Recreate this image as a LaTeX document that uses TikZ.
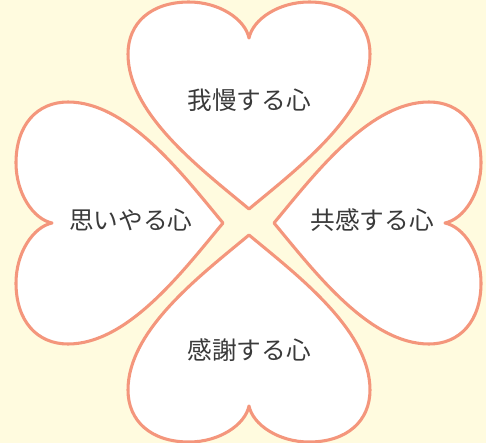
\documentclass[tikz,border=0pt]{standalone}
\usepackage{fontspec}
\newfontfamily\jpfont{Noto Sans CJK JP}
\definecolor{bgyellow}{HTML}{FFFBDF}
\definecolor{heartline}{HTML}{F4967C}
\definecolor{txtgray}{HTML}{3A3A3A}
\tikzset{
  heartpath/.style={draw=heartline, line width=2.3pt, fill=white, line join=round},
  heartlabel/.style={font=\jpfont\fontsize{18.5}{20}\selectfont, text=txtgray, inner sep=0pt},
  heart/.pic={
    \path[heartpath] (0,0)
      .. controls (48,-40) and (121,-95) .. (121,-155)
      .. controls (121,-186) and (98,-207) .. (60,-207)
      .. controls (30,-207) and (4,-190) .. (0,-171)
      .. controls (-4,-190) and (-30,-207) .. (-60,-207)
      .. controls (-98,-207) and (-121,-186) .. (-121,-155)
      .. controls (-121,-95) and (-48,-40) .. (0,0) -- cycle;
  }
}
\begin{document}
\begin{tikzpicture}[x=0.75pt,y=-0.75pt]
\fill[bgyellow] (0,0) rectangle (486,443);
\useasboundingbox (0,0) rectangle (486,443);
\pic at (249,209) {heart};
\pic[rotate=180] at (249,235) {heart};
\pic[rotate=90] at (223,223) {heart};
\pic[rotate=-90] at (274,223) {heart};
\node[heartlabel] (gaman) at (249,100) {我慢する心};
\node[heartlabel] (omoiyari) at (131,220) {思いやる心};
\node[heartlabel] (kyokan) at (372,220) {共感する心};
\node[heartlabel] (kansha) at (249,350) {感謝する心};
\end{tikzpicture}
\end{document}
